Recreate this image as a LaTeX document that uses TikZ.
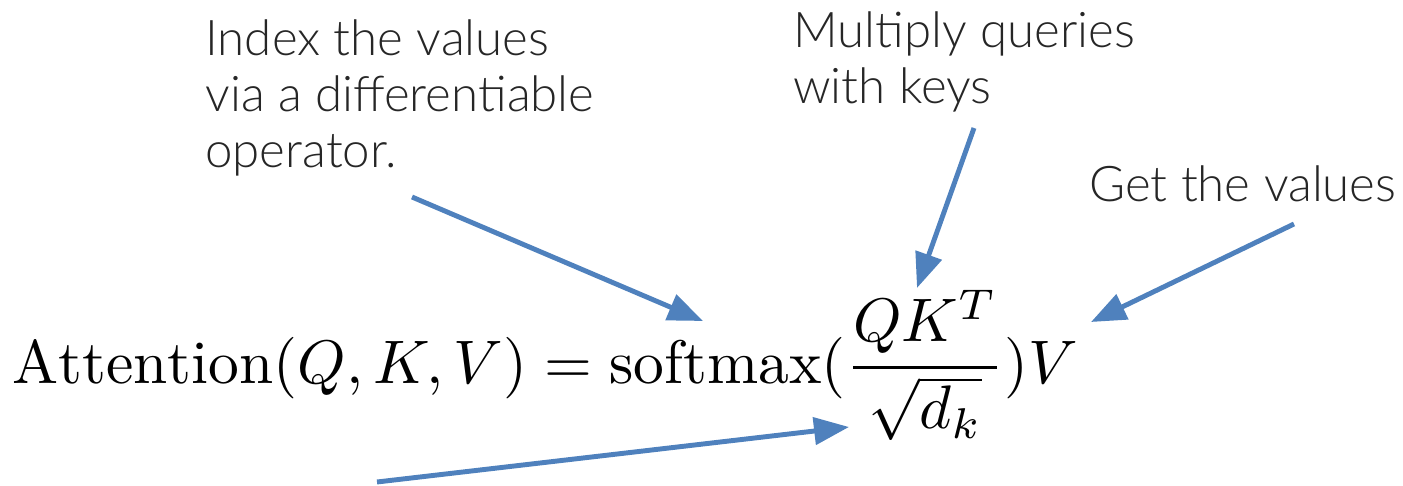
\documentclass[tikz,border=0pt]{standalone}
\usepackage{fontspec}
\usepackage{graphicx}
\newfontfamily\notefont{Lato}[UprightFont={* Light}]
\usetikzlibrary{arrows.meta}
\definecolor{arrowblue}{HTML}{4F81BD}

\tikzset{
  note/.style={anchor=base west,align=left,inner sep=0pt,text=black!85,
    font=\notefont\fontsize{28}{32}\selectfont},
  pointer/.style={draw=arrowblue,line width=2.8pt,
    -{Triangle[length=0.7cm,width=0.54cm]}},
}

\begin{document}
\begin{tikzpicture}[x=0.02cm,y=-0.02cm]
\useasboundingbox (0,0) rectangle (1403,486);
% notes (anchored at the last baseline)
\node[note] (idxnote) at (205,168) {Index the values\\via a differentiable\\operator.};
\node[note] (mulnote) at (793,104) {Multiply queries\\with keys};
\node[note] (getnote) at (1089,202) {Get the values};
% formula
\node[anchor=base west,inner sep=0pt] (formula) at (12,383)
  {\scalebox{3.5}{$\displaystyle \mathrm{Attention}(Q,K,V) = \mathrm{softmax}(\frac{QK^T}{\sqrt{d_k}})V$}};
% arrow ends
\coordinate (idxfrom) at (412,197);
\coordinate (idxto) at (703,321);
\coordinate (mulfrom) at (974,128);
\coordinate (multo) at (917,288);
\coordinate (getfrom) at (1294,224);
\coordinate (getto) at (1091,322);
\coordinate (sqfrom) at (377,482);
\coordinate (sqto) at (849,427);
\draw[pointer] (idxfrom) -- (idxto);
\draw[pointer] (mulfrom) -- (multo);
\draw[pointer] (getfrom) -- (getto);
\draw[pointer] (sqfrom) -- (sqto);
\end{tikzpicture}
\end{document}
